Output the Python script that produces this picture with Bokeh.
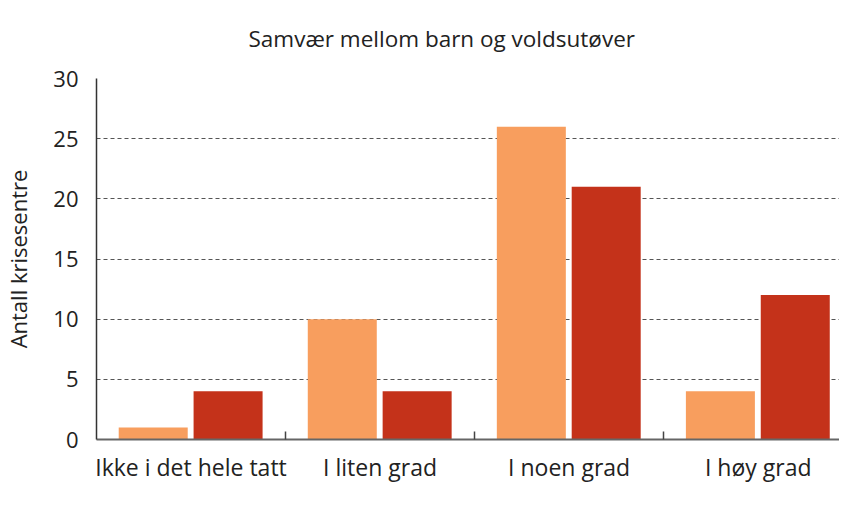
import numpy as np
from bokeh.plotting import figure
from bokeh.models import ColumnDataSource, Range1d, FixedTicker, Legend, LegendItem
from bokeh.transform import dodge
from bokeh.embed import file_html
from bokeh.resources import INLINE

categories = ["Ikke i det hele tatt", "I liten grad", "I noen grad", "I høy grad"]
under = [1, 10, 26, 4]
etter = [4, 4, 21, 12]
series_names = ["Under krisesenteropphold", "Etter krisesenteropphold"]
y_ticks = [0, 5, 10, 15, 20, 25, 30]
title_text = "Samvær mellom barn og voldsutøver"
y_label = "Antall krisesentre"

FONT = "Open Sans"
ORANGE = "#F89E5E"
RED = "#C4321A"
TEXT = "#222222"

pos = np.arange(len(categories)) + 0.5
src = ColumnDataSource(dict(x=pos, under=under, etter=etter))

p = figure(frame_width=743, frame_height=361,
           output_backend="svg", toolbar_location=None,
           x_range=Range1d(0, 3.93), y_range=Range1d(0, 30),
           min_border_left=89, min_border_right=0, min_border_top=0,
           min_border_bottom=0)

p.title.text = title_text
p.title.align = "left"
p.title.offset = 152
p.title.text_font = FONT
p.title.text_font_size = "22.5px"
p.title.text_font_style = "normal"
p.title.text_color = TEXT
p.title.vertical_align = "top"
p.title.standoff = 45

r1 = p.vbar(x=dodge("x", -0.2, range=p.x_range), top="under", width=0.365,
            source=src, fill_color=ORANGE, line_color=None)
r2 = p.vbar(x=dodge("x", 0.196, range=p.x_range), top="etter", width=0.365,
            source=src, fill_color=RED, line_color=None)

p.outline_line_color = None
p.background_fill_color = "white"
p.border_fill_color = "white"

# x axis
xa = p.xaxis[0]
xa.ticker = FixedTicker(ticks=list(pos), minor_ticks=[1, 2, 3])
xa.major_label_overrides = {float(v): c for v, c in zip(pos, categories)}
xa.major_tick_line_color = None
xa.minor_tick_in = 8
xa.minor_tick_out = 0
xa.minor_tick_line_color = "#444444"
xa.minor_tick_line_width = 1.5
xa.axis_line_color = "#666666"
xa.axis_line_width = 2
xa.major_label_text_font = FONT
xa.major_label_text_font_size = "23px"
xa.major_label_text_color = TEXT
xa.major_label_standoff = 5

# y axis
ya = p.yaxis[0]
ya.ticker = FixedTicker(ticks=y_ticks)
ya.major_tick_line_color = None
ya.minor_tick_line_color = None
ya.axis_line_color = "#333333"
ya.axis_line_width = 1.5
ya.major_label_text_font = FONT
ya.major_label_text_font_size = "22px"
ya.major_label_text_color = TEXT
ya.major_label_standoff = 12
ya.axis_label = y_label
ya.axis_label_text_font = FONT
ya.axis_label_text_font_size = "22px"
ya.axis_label_text_font_style = "normal"
ya.axis_label_text_color = TEXT
ya.axis_label_standoff = 17

p.xgrid.grid_line_color = None
p.ygrid.ticker = FixedTicker(ticks=y_ticks)
p.ygrid.grid_line_color = "#555555"
p.ygrid.grid_line_dash = "4 3"
p.ygrid.grid_line_width = 1

legend = Legend(items=[LegendItem(label=series_names[0], renderers=[r1]),
                       LegendItem(label=series_names[1], renderers=[r2])],
                orientation="horizontal", location="top_right",
                padding=0, margin=0, spacing=80,
                glyph_width=26, glyph_height=26, label_standoff=11,
                label_text_font=FONT, label_text_font_size="23px",
                label_text_color=TEXT, border_line_color=None,
                background_fill_alpha=0)
p.add_layout(legend, "below")

open("out.html", "w").write(file_html(p, INLINE))
